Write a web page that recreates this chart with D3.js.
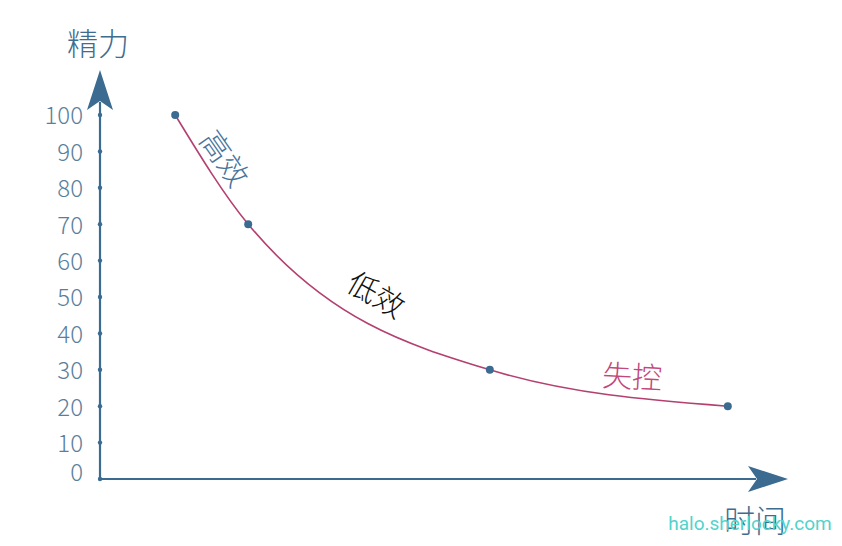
<!DOCTYPE html>
<html>
<head>
<meta charset="utf-8">
<script src="https://cdn.jsdelivr.net/npm/d3@7"></script>
<style>
  html, body { margin: 0; padding: 0; background: #fff; }
  svg { display: block; font-family: "Noto Sans CJK SC", "Noto Sans", sans-serif; }
</style>
</head>
<body>
<svg id="chart" width="842" height="546"></svg>
<script>
// ── Data ─────────────────────────────────────────────
const times = [1.03, 2.03, 5.34, 8.6];
const energy = [100, 70, 30, 20];
const yTicks = [0, 10, 20, 30, 40, 50, 60, 70, 80, 90, 100];
const phaseLabels = ['高效', '低效', '失控'];
// label anchors in data units (time, energy) and rotation
const phaseTimes = [1.7, 3.78, 7.29];
const phaseEnergy = [88, 50.5, 28];
const phaseAngles = [55, 30, 3];
const axisNames = ['精力', '时间'];

const AXIS_COLOR = '#3b6b91';
const TEXT_COLOR = '#5a7f9c';
const CURVE_COLOR = '#b4406f';
const phaseColors = ['#45739a', '#111111', '#c2477a'];

const svg = d3.select('#chart');

const x = d3.scaleLinear().domain([0, 9.5]).range([100, 793.5]);
const y = d3.scaleLinear().domain([0, 100]).range([479, 115]);

// arrow marker
const defs = svg.append('defs');
defs.append('marker')
  .attr('id', 'arrow')
  .attr('viewBox', '0 0 40 26')
  .attr('refX', 8).attr('refY', 13)
  .attr('markerUnits', 'userSpaceOnUse')
  .attr('markerWidth', 40).attr('markerHeight', 26)
  .attr('orient', 'auto')
  .append('path')
  .attr('d', 'M0,0 L40,13 L0,26 L9,13 Z')
  .attr('fill', AXIS_COLOR);

// axis lines
svg.append('line')
  .attr('x1', x(0)).attr('y1', y(0))
  .attr('x2', x(0)).attr('y2', 102)
  .attr('stroke', AXIS_COLOR).attr('stroke-width', 2.2)
  .attr('marker-end', 'url(#arrow)');

svg.append('line')
  .attr('x1', x(0)).attr('y1', y(0))
  .attr('x2', 756).attr('y2', y(0))
  .attr('stroke', AXIS_COLOR).attr('stroke-width', 2.2)
  .attr('marker-end', 'url(#arrow)');

// y ticks as dots
const yAxis = svg.append('g');
yAxis.selectAll('circle')
  .data(yTicks)
  .join('circle')
  .attr('cx', x(0))
  .attr('cy', (d) => y(d))
  .attr('r', 2.2)
  .attr('fill', AXIS_COLOR);

yAxis.selectAll('text')
  .data(yTicks)
  .join('text')
  .attr('x', 83)
  .attr('y', (d) => y(d) - (d === 0 ? 7 : 0) + 1)
  .attr('dy', '0.35em')
  .attr('text-anchor', 'end')
  .attr('font-size', 24)
  .attr('font-weight', 300)
  .attr('fill', TEXT_COLOR)
  .text((d) => d);

// axis names
svg.append('text')
  .attr('x', 98).attr('y', 55)
  .attr('text-anchor', 'middle')
  .attr('font-size', 31)
  .attr('font-weight', 300)
  .attr('fill', '#3f6d8f')
  .text(axisNames[0]);

svg.append('text')
  .attr('x', 755).attr('y', 532)
  .attr('text-anchor', 'middle')
  .attr('font-size', 31)
  .attr('font-weight', 300)
  .attr('fill', '#3f6d8f')
  .text(axisNames[1]);

// curve
const points = times.map((t, i) => [t, energy[i]]);
const line = d3.line()
  .x((d) => x(d[0]))
  .y((d) => y(d[1]))
  .curve(d3.curveMonotoneX);

svg.append('path')
  .datum(points)
  .attr('d', line)
  .attr('fill', 'none')
  .attr('stroke', CURVE_COLOR)
  .attr('stroke-width', 1.6);

svg.append('g')
  .selectAll('circle')
  .data(points)
  .join('circle')
  .attr('cx', (d) => x(d[0]))
  .attr('cy', (d) => y(d[1]))
  .attr('r', 4)
  .attr('fill', AXIS_COLOR);

// phase labels
svg.append('g')
  .selectAll('text')
  .data(phaseLabels)
  .join('text')
  .attr('transform', (d, i) => `translate(${x(phaseTimes[i])},${y(phaseEnergy[i])}) rotate(${phaseAngles[i]})`)
  .attr('text-anchor', 'middle')
  .attr('dy', '0.35em')
  .attr('font-size', 30)
  .attr('font-weight', 300)
  .attr('fill', (d, i) => phaseColors[i])
  .text((d) => d);

// watermark
svg.append('text')
  .attr('x', 750).attr('y', 530)
  .attr('text-anchor', 'middle')
  .attr('font-family', 'Roboto, "Noto Sans", sans-serif')
  .attr('font-size', 19)
  .attr('fill', '#52d3cc')
  .text('halo.sherlocky.com');
</script>
</body>
</html>
